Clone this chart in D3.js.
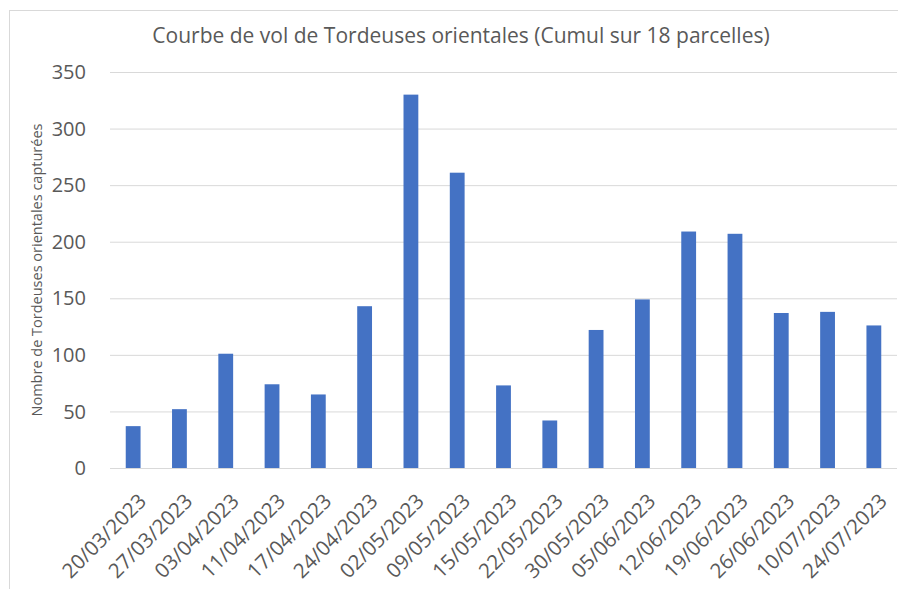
<!DOCTYPE html>
<html>
<head>
<meta charset="utf-8">
<script src="https://cdn.jsdelivr.net/npm/d3@7"></script>
<style>
  body { margin: 0; background: #fff; }
  svg { font-family: "Open Sans", Lato, sans-serif; }
</style>
</head>
<body>
<script>
// data
var dates = ["20/03/2023", "27/03/2023", "03/04/2023", "11/04/2023", "17/04/2023", "24/04/2023",
             "02/05/2023", "09/05/2023", "15/05/2023", "22/05/2023", "30/05/2023", "05/06/2023",
             "12/06/2023", "19/06/2023", "26/06/2023", "10/07/2023", "24/07/2023"];
var captures = [37, 52, 101, 74, 65, 143, 330, 261, 73, 42, 122, 149, 209, 207, 137, 138, 126];
var yTicks = [0, 50, 100, 150, 200, 250, 300, 350];

var W = 898, H = 589;
var margin = {top: 72, right: 1, bottom: 121, left: 110};
var width = W - margin.left - margin.right,
    height = H - margin.top - margin.bottom;

var svg = d3.select("body").append("svg")
    .attr("width", W)
    .attr("height", H);

// chart border
svg.append("rect")
    .attr("x", 9.5).attr("y", 10.5)
    .attr("width", 1000).attr("height", 1000)
    .attr("fill", "none")
    .attr("stroke", "#d9d9d9");

var g = svg.append("g")
    .attr("transform", "translate(" + margin.left + "," + margin.top + ")");

var x = d3.scaleBand().domain(dates).range([0, width]).paddingInner(0.68).paddingOuter(0.34);
var y = d3.scaleLinear().domain([0, 350]).range([height, 0]);

// gridlines
g.append("g")
    .call(d3.axisLeft(y).tickValues(yTicks).tickSize(-width).tickFormat(""))
    .call(s => s.select(".domain").remove())
    .selectAll("line").attr("stroke", "#d9d9d9");

// y labels
g.append("g")
    .selectAll("text")
    .data(yTicks)
    .enter().append("text")
    .attr("x", -24)
    .attr("y", d => y(d))
    .attr("dy", "0.36em")
    .attr("text-anchor", "end")
    .style("font-size", "20px")
    .style("fill", "#595959")
    .text(d => d);

// bars
g.append("g")
    .selectAll("rect")
    .data(captures)
    .enter().append("rect")
    .attr("x", (d, i) => x(dates[i]))
    .attr("y", d => y(d))
    .attr("width", x.bandwidth())
    .attr("height", d => height - y(d))
    .attr("fill", "#4472c4");

// x labels
g.append("g")
    .selectAll("text")
    .data(dates)
    .enter().append("text")
    .attr("transform", d => "translate(" + (x(d) + x.bandwidth() / 2 + 4) + "," + (height + 24) + ") rotate(-45)")
    .attr("text-anchor", "end")
    .attr("dy", "0.72em")
    .style("font-size", "20.5px")
    .style("fill", "#595959")
    .text(d => d);

// y axis title
svg.append("text")
    .attr("transform", "translate(37," + (margin.top + height / 2) + ") rotate(-90)")
    .attr("text-anchor", "middle")
    .attr("dy", "0.35em")
    .style("font-size", "14.5px")
    .style("fill", "#595959")
    .text("Nombre de Tordeuses  orientales capturées");

// title
svg.append("text")
    .attr("x", 461)
    .attr("y", 43)
    .attr("text-anchor", "middle")
    .style("font-size", "21px")
    .style("fill", "#595959")
    .text("Courbe de vol de Tordeuses orientales (Cumul sur 18 parcelles)");
</script>
</body>
</html>
